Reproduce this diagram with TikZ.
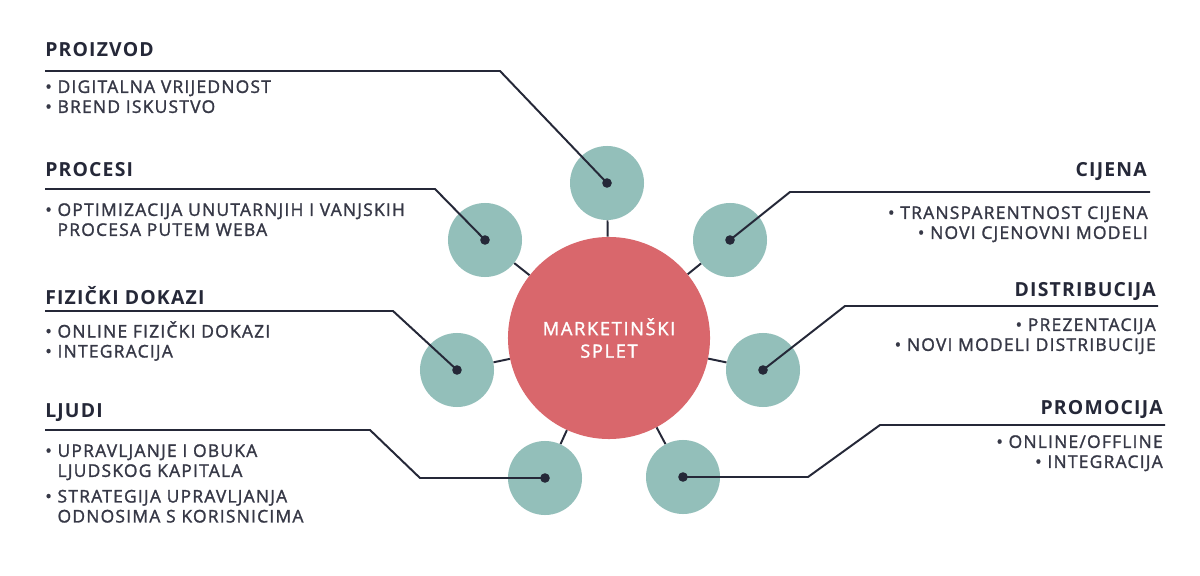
\documentclass[tikz,border=0pt]{standalone}
\usepackage{fontspec}
\setmainfont{Open Sans}
\newfontfamily\itemfont{Open Sans}[FakeBold=1.5]
\usetikzlibrary{positioning}
\definecolor{spletred}{HTML}{D9676C}
\definecolor{tealc}{HTML}{93BFBA}
\definecolor{inkc}{HTML}{252838}
\definecolor{itemc}{HTML}{363846}

\begin{document}
\begin{tikzpicture}[x=0.025cm, y=-0.025cm,
	main/.style = {circle, fill=spletred, minimum size=5.05cm, text=white, align=center,
		font=\itemfont\fontsize{13}{16}\selectfont\addfontfeatures{LetterSpace=9}},
	sat/.style = {circle, fill=tealc, minimum size=1.85cm, inner sep=0pt},
	dot/.style = {circle, fill=inkc, minimum size=0.24cm, inner sep=0pt},
	headL/.style = {anchor=west, text=inkc, inner sep=0pt,
		font=\bfseries\fontsize{13.8}{16}\selectfont\addfontfeatures{LetterSpace=6}},
	headR/.style = {headL, anchor=east},
	itemsL/.style = {anchor=north west, align=left, text=itemc, inner sep=0pt,
		font=\itemfont\fontsize{12.4}{14.2}\selectfont\addfontfeatures{LetterSpace=7}},
	itemsR/.style = {itemsL, anchor=north east, align=right},
	wire/.style = {draw=inkc, line width=1.4pt}]

	\useasboundingbox[fill=white] (0,0) rectangle (1200,576);

	% centre and satellites
	\node[main] (M) at (609,338) {MARKETINŠKI\\SPLET};
	\node[sat] (s1) at (607,183) {};
	\node[sat] (s2) at (485,240) {};
	\node[sat] (s3) at (457,370) {};
	\node[sat] (s4) at (545,478) {};
	\node[sat] (s5) at (730,240) {};
	\node[sat] (s6) at (763,370) {};
	\node[sat] (s7) at (683,477) {};

	\draw[wire] (M) to (s1);
	\draw[wire] (M) to (s2);
	\draw[wire] (M) to (s3);
	\draw[wire] (M) to (s4);
	\draw[wire] (M) to (s5);
	\draw[wire] (M) to (s6);
	\draw[wire] (M) to (s7);

	% left labels
	\node[headL] (h1) at (45,50) {PROIZVOD};
	\node[itemsL] (t1) at (45,80) {• DIGITALNA VRIJEDNOST\\• BREND ISKUSTVO};
	\node[headL] (h2) at (45,170) {PROCESI};
	\node[itemsL] (t2) at (45,203) {• OPTIMIZACIJA UNUTARNJIH I VANJSKIH\\\phantom{• }PROCESA PUTEM WEBA};
	\node[headL] (h3) at (45,296) {FIZIČKI DOKAZI};
	\node[itemsL] (t3) at (45,321) {• ONLINE FIZIČKI DOKAZI\\• INTEGRACIJA};
	\node[headL] (h4) at (45,413) {LJUDI};
	\node[itemsL] (t4) at (45,444) {• UPRAVLJANJE I OBUKA\\\phantom{• }LJUDSKOG KAPITALA\\[4pt]
		• STRATEGIJA UPRAVLJANJA\\\phantom{• }ODNOSIMA S KORISNICIMA};

	% right labels
	\node[headR] (h5) at (1147,172) {CIJENA};
	\node[itemsR] (t5) at (1148,206) {• TRANSPARENTNOST CIJENA\\• NOVI CJENOVNI MODELI};
	\node[headR] (h6) at (1156,292) {DISTRIBUCIJA};
	\node[itemsR] (t6) at (1156,318) {• PREZENTACIJA\\• NOVI MODELI DISTRIBUCIJE};
	\node[headR] (h7) at (1163,410) {PROMOCIJA};
	\node[itemsR] (t7) at (1163,435) {• ONLINE/OFFLINE\\• INTEGRACIJA};

	% leader lines
	\coordinate (b1) at (500,71);  \coordinate (e1) at (45,71);
	\coordinate (b2) at (435,189); \coordinate (e2) at (45,189);
	\coordinate (b3) at (393,311); \coordinate (e3) at (45,311);
	\coordinate (a4) at (420,478); \coordinate (b4) at (370,430); \coordinate (e4) at (45,430);
	\coordinate (b5) at (790,192); \coordinate (e5) at (1150,192);
	\coordinate (b6) at (845,306); \coordinate (e6) at (1158,306);
	\coordinate (a7) at (808,477); \coordinate (b7) at (880,425); \coordinate (e7) at (1165,425);

	\draw[wire] (s1.center) -- (b1) -- (e1);
	\draw[wire] (s2.center) -- (b2) -- (e2);
	\draw[wire] (s3.center) -- (b3) -- (e3);
	\draw[wire] (s4.center) -- (a4) -- (b4) -- (e4);
	\draw[wire] (s5.center) -- (b5) -- (e5);
	\draw[wire] (s6.center) -- (b6) -- (e6);
	\draw[wire] (s7.center) -- (a7) -- (b7) -- (e7);

	\node[dot] (d1) at (s1) {};
	\node[dot] (d2) at (s2) {};
	\node[dot] (d3) at (s3) {};
	\node[dot] (d4) at (s4) {};
	\node[dot] (d5) at (s5) {};
	\node[dot] (d6) at (s6) {};
	\node[dot] (d7) at (s7) {};
\end{tikzpicture}
\end{document}
